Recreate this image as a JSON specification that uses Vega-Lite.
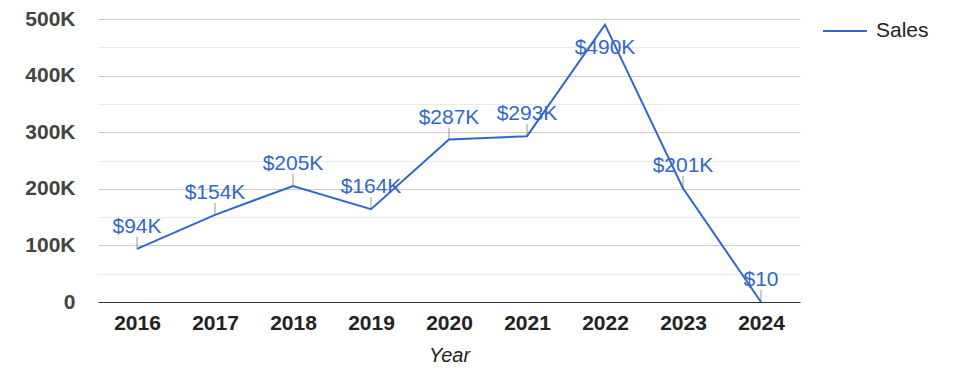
{
  "$schema": "https://vega.github.io/schema/vega-lite/v6.json",
  "width": 702,
  "height": 283,
  "autosize": {"type": "none"},
  "padding": {"left": 98, "top": 19, "right": 175, "bottom": 76},
  "background": "white",
  "config": {
    "font": "Liberation Sans",
    "view": {"stroke": null}
  },
  "data": {
    "values": [
      {"Year": "2016", "Sales": 94000, "label": "$94K", "series": "Sales"},
      {"Year": "2017", "Sales": 154000, "label": "$154K", "series": "Sales"},
      {"Year": "2018", "Sales": 205000, "label": "$205K", "series": "Sales"},
      {"Year": "2019", "Sales": 164000, "label": "$164K", "series": "Sales"},
      {"Year": "2020", "Sales": 287000, "label": "$287K", "series": "Sales"},
      {"Year": "2021", "Sales": 293000, "label": "$293K", "series": "Sales"},
      {"Year": "2022", "Sales": 490000, "label": "$490K", "series": "Sales"},
      {"Year": "2023", "Sales": 201000, "label": "$201K", "series": "Sales"},
      {"Year": "2024", "Sales": 10, "label": "$10", "series": "Sales"}
    ]
  },
  "encoding": {
    "x": {
      "field": "Year",
      "type": "ordinal",
      "scale": {"type": "point", "padding": 0.5},
      "axis": {
        "title": "Year",
        "titleFont": "Liberation Sans",
        "titleFontStyle": "italic",
        "titleFontWeight": "normal",
        "titleFontSize": 20,
        "titleColor": "#222222",
        "titlePadding": 12,
        "labelAngle": 0,
        "labelFontSize": 21,
        "labelFontWeight": "bold",
        "labelColor": "#222222",
        "labelPadding": 10,
        "ticks": false,
        "domain": true,
        "domainColor": "#333333",
        "domainWidth": 1,
        "grid": false
      }
    },
    "y": {
      "field": "Sales",
      "type": "quantitative",
      "scale": {"domain": [0, 500000], "nice": false},
      "axis": {
        "title": null,
        "values": [0, 50000, 100000, 150000, 200000, 250000, 300000, 350000, 400000, 450000, 500000],
        "labelExpr": "datum.value % 100000 ? '' : (datum.value == 0 ? '0' : (datum.value / 1000) + 'K')",
        "labelFontSize": 21,
        "labelFontWeight": "bold",
        "labelColor": "#444444",
        "labelPadding": 23,
        "ticks": false,
        "domain": false,
        "grid": true,
        "gridColor": {"condition": {"test": "datum.value % 100000 === 0", "value": "#cccccc"}, "value": "#ebebeb"},
        "gridWidth": 1
      }
    }
  },
  "layer": [
    {
      "mark": {"type": "rule", "color": "#999999", "strokeWidth": 1, "y2Offset": -12},
      "transform": [{"filter": "datum.Sales < 450000"}],
      "encoding": {
        "y2": {"field": "Sales"}
      }
    },
    {
      "mark": {"type": "line", "strokeWidth": 2},
      "encoding": {
        "color": {
          "field": "series",
          "type": "nominal",
          "scale": {"range": ["#3366cc"]},
          "legend": {
            "title": null,
            "orient": "none",
            "legendX": 724,
            "legendY": -11,
            "padding": 0,
            "symbolType": "stroke",
            "symbolSize": 1936,
            "symbolStrokeWidth": 2,
            "labelFontSize": 21,
            "labelColor": "#222222",
            "labelOffset": 8,
            "labelFont": "Liberation Sans"
          }
        }
      }
    },
    {
      "mark": {"type": "text", "dy": -22, "baseline": "middle", "fontSize": 21, "color": "#3366cc"},
      "transform": [{"filter": "datum.Sales < 450000"}],
      "encoding": {"text": {"field": "label"}}
    },
    {
      "mark": {"type": "text", "dy": 23, "baseline": "middle", "fontSize": 21, "color": "#3366cc"},
      "transform": [{"filter": "datum.Sales >= 450000"}],
      "encoding": {"text": {"field": "label"}}
    }
  ]
}
